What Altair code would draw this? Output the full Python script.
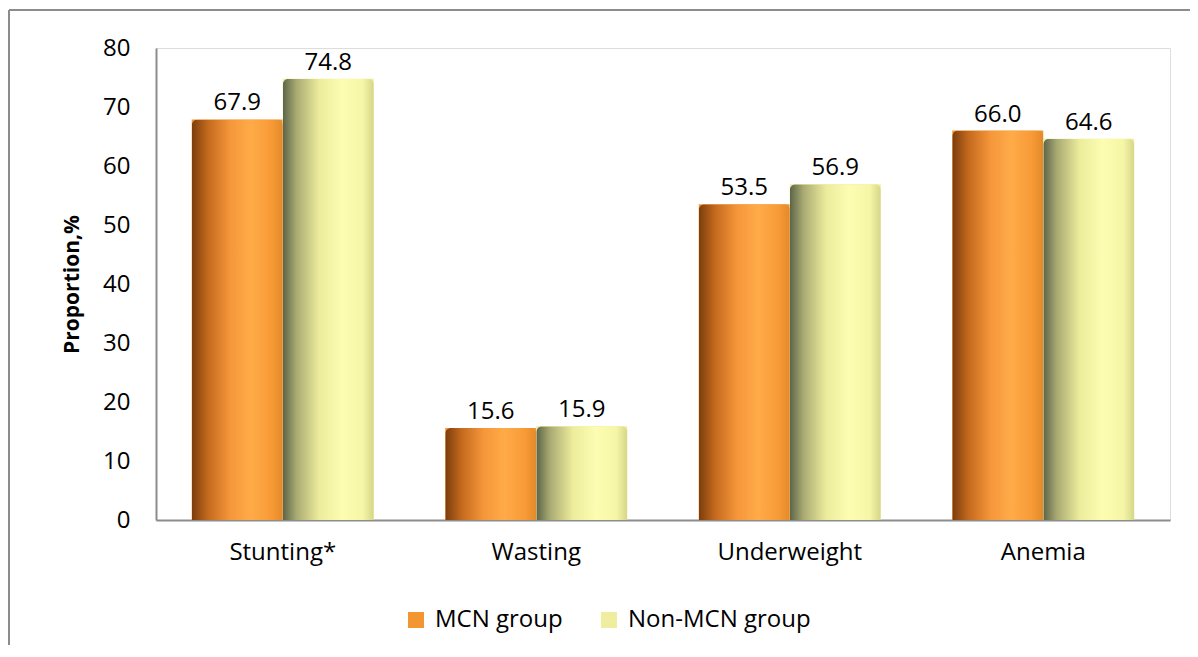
import altair as alt
import pandas as pd

categories = ["Stunting*", "Wasting", "Underweight", "Anemia"]
groups = ["MCN group", "Non-MCN group"]
mcn_values = [67.9, 15.6, 53.5, 66.0]
non_mcn_values = [74.8, 15.9, 56.9, 64.6]

rows = []
for c, a, b in zip(categories, mcn_values, non_mcn_values):
    rows.append({"cat": c, "group": groups[0], "value": a, "label": f"{a:.1f}"})
    rows.append({"cat": c, "group": groups[1], "value": b, "label": f"{b:.1f}"})
df = pd.DataFrame(rows)

FONT = "Open Sans"
FS = 24

orange_grad = alt.Gradient(
    gradient="linear", x1=0, x2=1, y1=0, y2=0,
    stops=[
        alt.GradientStop(color="#7a3d0c", offset=0),
        alt.GradientStop(color="#c46a1e", offset=0.18),
        alt.GradientStop(color="#f5963a", offset=0.42),
        alt.GradientStop(color="#ffab48", offset=0.65),
        alt.GradientStop(color="#f79a36", offset=0.88),
        alt.GradientStop(color="#e2892a", offset=1),
    ],
)
yellow_grad = alt.Gradient(
    gradient="linear", x1=0, x2=1, y1=0, y2=0,
    stops=[
        alt.GradientStop(color="#5b6448", offset=0),
        alt.GradientStop(color="#a9aa72", offset=0.15),
        alt.GradientStop(color="#ecec9c", offset=0.4),
        alt.GradientStop(color="#fdfdb2", offset=0.65),
        alt.GradientStop(color="#f6f6a6", offset=0.88),
        alt.GradientStop(color="#d6d68a", offset=1),
    ],
)

x_enc = alt.X(
    "cat:N", sort=categories, title=None,
    scale=alt.Scale(paddingInner=0.282, paddingOuter=0.141),
    axis=alt.Axis(labelAngle=0, labelFont=FONT, labelFontSize=FS, labelColor="#000",
                  labelPadding=20, ticks=False, domainColor="#8c8c8c", domainWidth=2),
)
xoff_enc = alt.XOffset("group:N", sort=groups, scale=alt.Scale(domain=groups, paddingInner=0, paddingOuter=0))
y_enc = alt.Y(
    "value:Q", title="Proportion,%",
    scale=alt.Scale(domain=[0, 80], nice=False),
    axis=alt.Axis(values=list(range(0, 81, 10)), grid=False, ticks=False,
                  labelFont=FONT, labelFontSize=FS, labelColor="#000", labelPadding=26,
                  domainColor="#8c8c8c", domainWidth=2,
                  titleFont=FONT, titleFontSize=21, titleFontWeight="bold", titleColor="#000",
                  titlePadding=20),
)

base = alt.Chart(df).encode(x=x_enc, xOffset=xoff_enc, y=y_enc)

legend_bars = base.mark_bar().encode(
    color=alt.Color(
        "group:N", sort=groups,
        scale=alt.Scale(domain=groups, range=["#f39530", "#eeee9e"]),
        legend=alt.Legend(
            title=None, orient="none", direction="horizontal",
            legendX=248, legendY=560,
            symbolType="square", symbolSize=256, symbolStrokeWidth=0,
            labelFont=FONT, labelFontSize=FS, labelColor="#000", labelLimit=400,
            columnPadding=34, labelOffset=7,
        ),
    )
)

orange_bars = base.transform_filter(alt.datum.group == groups[0]).mark_bar(
    fill=orange_grad, cornerRadiusTopLeft=6, cornerRadiusTopRight=6
)
yellow_bars = base.transform_filter(alt.datum.group == groups[1]).mark_bar(
    fill=yellow_grad, cornerRadiusTopLeft=6, cornerRadiusTopRight=6
)

labels = base.mark_text(
    baseline="bottom", dy=-4, font=FONT, fontSize=FS, color="#000"
).encode(text="label:N")

frame_data = alt.Data(values=[{"k": 1}])
left_border = alt.Chart(frame_data).mark_rule(color="#8c8c8c", strokeWidth=2).encode(
    x=alt.value(-147), y=alt.value(-38), y2=alt.value(700)
)
top_border = alt.Chart(frame_data).mark_rule(color="#8c8c8c", strokeWidth=2).encode(
    x=alt.value(-147), x2=alt.value(1100), y=alt.value(-38)
)

chart = alt.layer(
    legend_bars, orange_bars, yellow_bars, labels, left_border, top_border
).properties(
    width=1014, height=472,
    autosize=alt.AutoSizeParams(type="none"),
    padding={"left": 148, "top": 40, "right": 20, "bottom": 125},
).configure_view(stroke=None).configure(background="white")

chart.save("out.html", embed_options={"renderer": "svg", "actions": False})
